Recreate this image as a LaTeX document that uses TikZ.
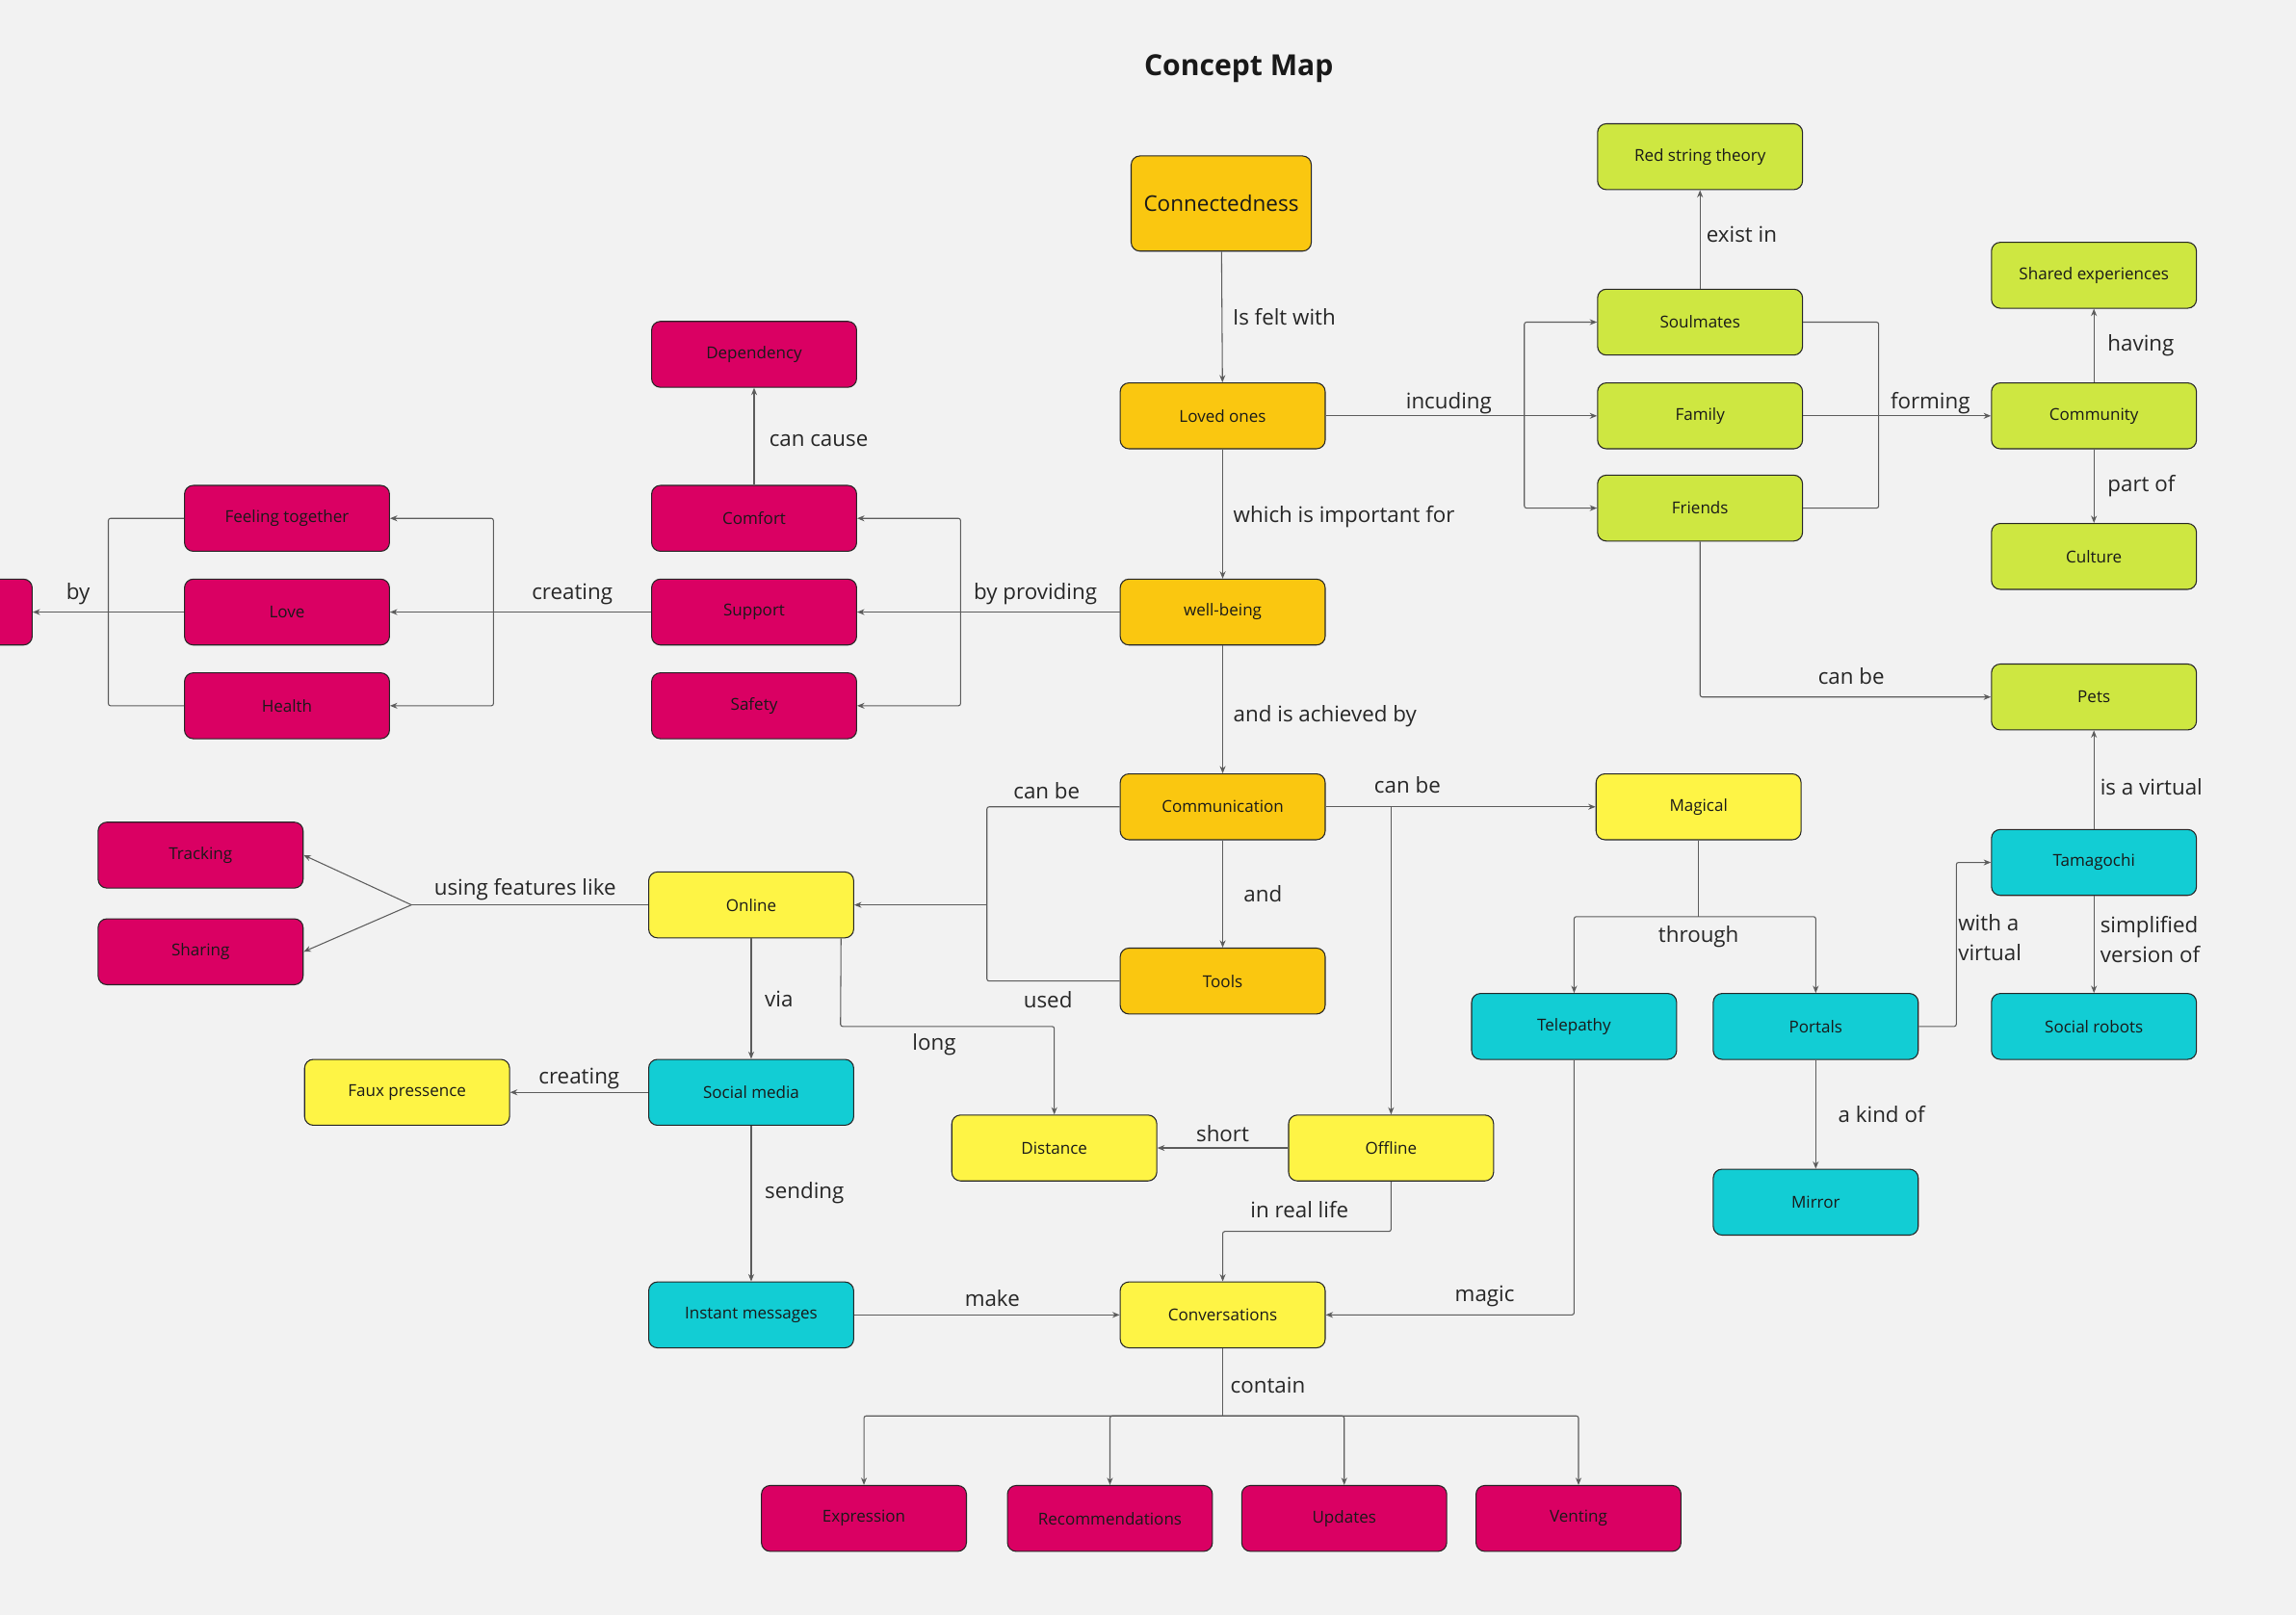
\documentclass[tikz,border=0pt]{standalone}
\usepackage{fontspec}
\setmainfont{Open Sans}
\usepackage{tikz}
\usetikzlibrary{arrows.meta}

\definecolor{canvas}{HTML}{F2F2F2}
\definecolor{mirorange}{HTML}{FAC710}
\definecolor{mirlime}{HTML}{CEE741}
\definecolor{miryellow}{HTML}{FEF445}
\definecolor{mircyan}{HTML}{12CDD4}
\definecolor{mirpink}{HTML}{DA0063}
\definecolor{wiregray}{HTML}{5C5C5C}

\tikzset{
	box/.style={draw=black!85, line width=0.7pt, rounded corners=6pt, minimum width=140pt, minimum height=45pt, inner sep=0pt, align=center, text=black!90, font=\fontsize{11.2}{13}\selectfont},
	orangebox/.style={box, fill=mirorange},
	limebox/.style={box, fill=mirlime},
	yellowbox/.style={box, fill=miryellow},
	cyanbox/.style={box, fill=mircyan},
	pinkbox/.style={box, fill=mirpink},
	linkline/.style={draw=wiregray, line width=0.7pt, rounded corners=1.5pt},
	linkarrow/.style={linkline, -{Stealth[length=5pt, width=4pt]}},
	linklabel/.style={font=\fontsize{14.7}{20.5}\selectfont, text=black!85, inner sep=0pt, align=left},
}

\begin{document}
\begin{tikzpicture}[x=1pt, y=-1pt]
		%%%%% START %%%%%
		
		\fill[canvas] (0,0) rectangle (1568,1103);
		\useasboundingbox (0,0) rectangle (1568,1103);
		
		\node[font=\fontsize{19.8}{23}\selectfont\bfseries, text=black!90] (title) at (846,47) {Concept Map};
		
		% centre column
		\node[orangebox, minimum width=123pt, minimum height=65pt, font=\fontsize{14.8}{17}\selectfont] (conn) at (834,139) {Connectedness};
		\node[orangebox] (loved) at (835,284) {Loved ones};
		\node[orangebox] (well) at (835,418) {well-being};
		\node[orangebox] (comm) at (835,551) {Communication};
		\node[orangebox] (tools) at (835,670) {Tools};
		
		% loved ones
		\node[limebox] (red) at (1161,107) {Red string theory};
		\node[limebox] (soul) at (1161,220) {Soulmates};
		\node[limebox] (family) at (1161,284) {Family};
		\node[limebox] (friends) at (1161,347) {Friends};
		\node[limebox] (shared) at (1430,188) {Shared experiences};
		\node[limebox] (community) at (1430,284) {Community};
		\node[limebox] (culture) at (1430,380) {Culture};
		\node[limebox] (pets) at (1430,476) {Pets};
		
		% magical side
		\node[yellowbox] (magical) at (1160,551) {Magical};
		\node[cyanbox] (tama) at (1430,589) {Tamagochi};
		\node[cyanbox] (robots) at (1430,701) {Social robots};
		\node[cyanbox] (tele) at (1075,701) {Telepathy};
		\node[cyanbox] (portals) at (1240,701) {Portals};
		\node[cyanbox] (mirror) at (1240,821) {Mirror};
		
		% online and offline
		\node[yellowbox] (offline) at (950,784) {Offline};
		\node[yellowbox] (dist) at (720,784) {Distance};
		\node[yellowbox] (conv) at (835,898) {Conversations};
		\node[yellowbox] (online) at (513,618) {Online};
		\node[cyanbox] (social) at (513,746) {Social media};
		\node[yellowbox] (faux) at (278,746) {Faux pressence};
		\node[cyanbox] (instant) at (513,898) {Instant messages};
		\node[pinkbox] (track) at (137,584) {Tracking};
		\node[pinkbox] (share) at (137,650) {Sharing};
		
		% well-being side
		\node[pinkbox] (depend) at (515,242) {Dependency};
		\node[pinkbox] (comfort) at (515,354) {Comfort};
		\node[pinkbox] (support) at (515,418) {Support};
		\node[pinkbox] (safety) at (515,482) {Safety};
		\node[pinkbox] (feel) at (196,354) {Feeling together};
		\node[pinkbox] (love) at (196,418) {Love};
		\node[pinkbox] (health) at (196,482) {Health};
		\node[pinkbox] (edge) at (-48,418) {};
		
		% conversations
		\node[pinkbox] (expr) at (590,1037) {Expression};
		\node[pinkbox] (recom) at (758,1037) {Recommendations};
		\node[pinkbox] (updates) at (918,1037) {Updates};
		\node[pinkbox] (venting) at (1078,1037) {Venting};
		
		% junctions
		\coordinate (incj) at (1041,284);
		\coordinate (formj) at (1283,284);
		\coordinate (canj) at (950,551);
		\coordinate (thrj) at (1160,626);
		\coordinate (portbend) at (1336,701);
		\coordinate (irlbend) at (950,841);
		\coordinate (longbend) at (574,701);
		\coordinate (usej) at (674,618);
		\coordinate (featj) at (281,618);
		\coordinate (contj) at (835,967);
		\coordinate (provj) at (656,418);
		\coordinate (creatj) at (337,418);
		\coordinate (byj) at (74,418);
		
		% centre column links
		\draw[linkarrow] (conn) -- node[linklabel, right=7pt]{Is felt with} (loved);
		\draw[linkarrow] (loved) -- node[linklabel, right=7pt, pos=0.52]{which is important for} (well);
		\draw[linkarrow] (well) -- node[linklabel, right=7pt, pos=0.55]{and is achieved by} (comm);
		\draw[linkarrow] (comm) -- node[linklabel, right=14pt]{and} (tools);
		
		% loved ones links
		\draw[linkline] (loved.east) -- node[linklabel, above=1pt, pos=0.62]{incuding} (incj);
		\draw[linkarrow] (incj) |- (soul.west);
		\draw[linkarrow] (incj) -- (family.west);
		\draw[linkarrow] (incj) |- (friends.west);
		\draw[linkarrow] (soul) -- node[linklabel, right=4pt, pos=0.55]{exist in} (red);
		\draw[linkline] (soul.east) -| (formj);
		\draw[linkline] (friends.east) -| (formj);
		\draw[linkline] (family.east) -- (formj);
		\draw[linkarrow] (formj) -- node[linklabel, above=1pt, pos=0.46]{forming} (community.west);
		\draw[linkarrow] (community) -- node[linklabel, right=9pt]{having} (shared);
		\draw[linkarrow] (community) -- node[linklabel, right=9pt]{part of} (culture);
		\draw[linkarrow] (friends.south) |- node[linklabel, above=8pt, pos=0.76]{can be} (pets.west);
		\draw[linkarrow] (tama) -- node[linklabel, right=4pt, pos=0.43]{is a virtual} (pets);
		\draw[linkarrow] (tama) -- node[linklabel, right=4pt, pos=0.45]{simplified\\version of} (robots);
		
		% magical links
		\draw[linkline] (comm.east) -- (canj);
		\draw[linkarrow] (canj) -- node[linklabel, above=9pt, pos=0.08]{can be} (magical.west);
		\draw[linkarrow] (canj) -- (offline.north);
		\draw[linkline] (magical.south) -- (thrj) node[linklabel, below=6pt]{through};
		\draw[linkarrow] (thrj) -| (tele.north);
		\draw[linkarrow] (thrj) -| (portals.north);
		\draw[linkarrow] (portals.east) -- (portbend) -- node[linklabel, right=1pt, pos=0.54]{with a\\virtual} (portbend |- tama.west) -- (tama.west);
		\draw[linkarrow] (portals) -- node[linklabel, right=15pt]{a kind of} (mirror);
		\draw[linkarrow] (tele.south) |- node[linklabel, above=5pt, pos=0.68]{magic} (conv.east);
		
		% offline and online links
		\draw[linkarrow] (offline) -- node[linklabel, above=4pt]{short} (dist);
		\draw[linkarrow] (offline.south) -- (irlbend) -| node[linklabel, above=9pt, pos=0.272]{in real life} (conv.north);
		\draw[linkline] (comm.west) -| node[linklabel, above=5pt, pos=0.275]{can be} (usej);
		\draw[linkline] (tools.west) -| node[linklabel, below=7pt, pos=0.27]{used} (usej);
		\draw[linkarrow] (usej) -- (online.east);
		\draw[linkarrow] ([xshift=-9pt]online.south east) -- (longbend) -| node[linklabel, below=5pt, pos=0.219]{long} (dist.north);
		\draw[linkline] (online.west) -- node[linklabel, above=3pt, pos=0.52]{using features like} (featj);
		\draw[linkarrow, rounded corners=0pt] (featj) -- (track.east);
		\draw[linkarrow, rounded corners=0pt] (featj) -- (share.east);
		\draw[linkarrow] (online) -- node[linklabel, right=9pt]{via} (social);
		\draw[linkarrow] (social) -- node[linklabel, above=2pt]{creating} (faux);
		\draw[linkarrow] (social) -- node[linklabel, right=9pt, pos=0.43]{sending} (instant);
		\draw[linkarrow] (instant) -- node[linklabel, above=5pt, pos=0.52]{make} (conv);
		
		% contain
		\draw[linkline] (conv.south) -- node[linklabel, right=5pt, pos=0.55]{contain} (contj);
		\draw[linkarrow] (contj) -| (expr.north);
		\draw[linkarrow] (contj) -| (recom.north);
		\draw[linkarrow] (contj) -| (updates.north);
		\draw[linkarrow] (contj) -| (venting.north);
		
		% well-being links
		\draw[linkline] (well.west) -- node[linklabel, above=5pt, pos=0.53]{by providing} (provj);
		\draw[linkarrow] (provj) |- (comfort.east);
		\draw[linkarrow] (provj) -- (support.east);
		\draw[linkarrow] (provj) |- (safety.east);
		\draw[linkarrow] (comfort) -- node[linklabel, right=10pt, pos=0.46]{can cause} (depend);
		\draw[linkline] (support.west) -- node[linklabel, above=5pt]{creating} (creatj);
		\draw[linkarrow] (creatj) |- (feel.east);
		\draw[linkarrow] (creatj) -- (love.east);
		\draw[linkarrow] (creatj) |- (health.east);
		\draw[linkline] (feel.west) -| (byj);
		\draw[linkline] (love.west) -- (byj);
		\draw[linkline] (health.west) -| (byj);
		\draw[linkarrow] (byj) -- node[linklabel, above=5pt, pos=0.4]{by} (edge.east);
		
		%%%%% END %%%%%
	\end{tikzpicture}
\end{document}
